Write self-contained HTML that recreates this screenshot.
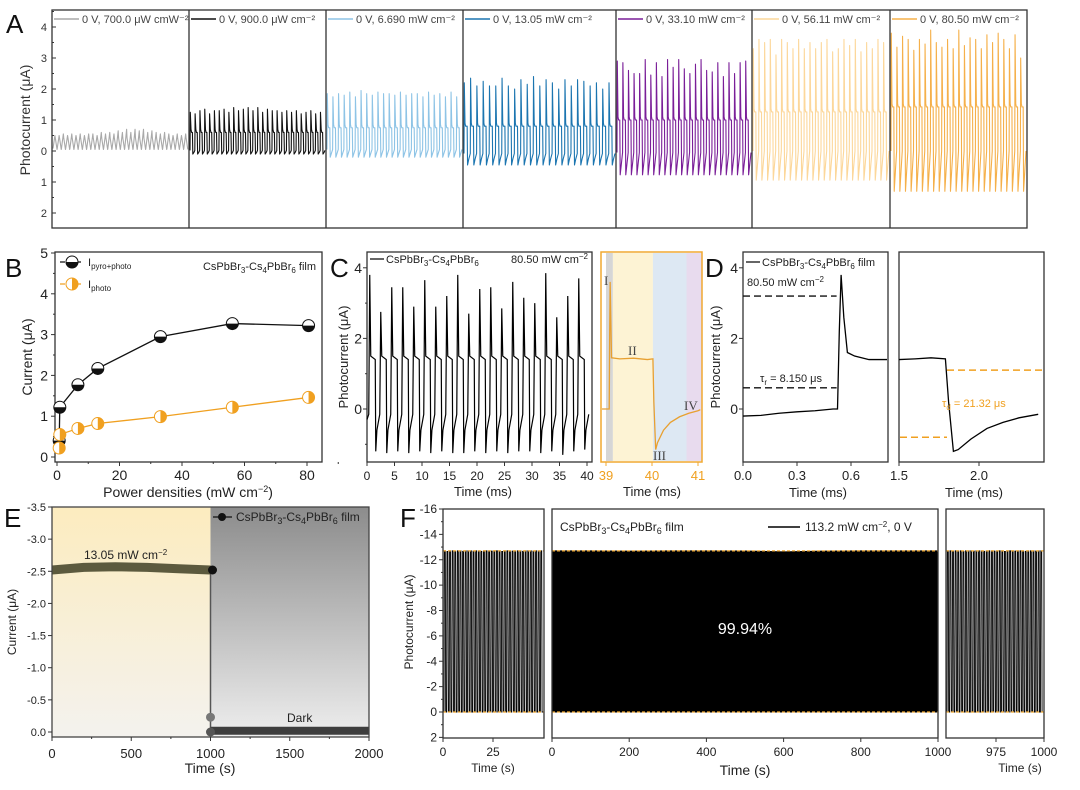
<!DOCTYPE html>
<html><head><meta charset="utf-8">
<style>
html,body{margin:0;padding:0;background:#fff;}
svg{display:block;font-family:"Liberation Sans",Arial,sans-serif;}
</style></head>
<body>
<svg id="fig" width="1080" height="790" viewBox="0 0 1080 790" xmlns="http://www.w3.org/2000/svg">
<defs>
<linearGradient id="gY" x1="0" y1="0" x2="0" y2="1"><stop offset="0" stop-color="#fcecbf"/><stop offset="1" stop-color="#f4f2ee"/></linearGradient>
<linearGradient id="gG" x1="0" y1="0" x2="0" y2="1"><stop offset="0" stop-color="#8c8c8c"/><stop offset="1" stop-color="#eeeeee"/></linearGradient>
</defs>
<g id="root"></g>
</svg>
<script>
// ---------- DATA ----------
const aLabels = ["0 V, 700.0 μW cmW⁻²","0 V, 900.0 μW cm⁻²","0 V, 6.690 mW cm⁻²","0 V, 13.05 mW cm⁻²","0 V, 33.10 mW cm⁻²","0 V, 56.11 mW cm⁻²","0 V, 80.50 mW cm⁻²"];
const aColors = ["#a9a9a9","#111111","#8ec4e6","#1b75b0","#7a1e98","#fcd79a","#f5b04a"];
const aHigh = [0.42,0.6,0.75,0.8,1.0,1.26,1.42];
const aLow = [0.08,0.02,0.05,-0.08,-0.05,0.0,0.0];
const aTrough = [0.05,-0.1,-0.2,-0.45,-0.77,-0.94,-1.3];
const aPeaks1 = [0.5,0.5,0.55,0.5,0.55,0.5,0.55,0.5,0.55,0.55,0.5,0.6,0.55,0.6,0.55,0.65,0.6,0.7,0.6,0.7,0.65,0.7,0.6,0.65,0.6,0.55,0.6,0.55,0.5,0.55,0.5,0.55];
const aPeaks2 = [1.25,1.2,1.3,1.35,1.2,1.3,1.3,1.35,1.25,1.4,1.3,1.35,1.4,1.3,1.4,1.25,1.35,1.3,1.3,1.25,1.3,1.25,1.3,1.2,1.25,1.3,1.2,1.25];
const aPeaks3 = [1.85,1.75,1.85,1.8,1.9,1.75,1.95,1.85,1.8,1.9,1.85,1.85,1.8,1.9,1.8,1.85,1.85,1.75,1.9,1.8,1.85,1.75,1.9,1.75];
const aPeaks4 = [2.2,2.35,2.1,2.25,2.1,2.1,2.35,2.1,2.0,2.3,2.15,2.4,2.1,2.3,2.2,2.0,2.3,2.1,2.3,2.25,2.1,2.2,2.0,2.2];
const aPeaks5 = [2.9,2.85,2.6,2.5,2.5,2.95,2.45,2.85,2.4,2.95,2.7,2.95,2.65,2.5,2.8,2.95,2.6,2.55,2.85,2.4,2.85,2.5,2.85,2.9];
const aPeaks6 = [3.3,3.6,3.5,3.6,3.1,3.6,3.5,3.3,3.6,3.3,3.5,3.3,3.5,3.6,3.2,3.3,3.6,3.4,3.6,3.2,3.5,3.3,3.6,3.5];
const aPeaks7 = [3.8,3.35,3.7,3.6,3.25,3.6,3.45,3.9,3.5,3.35,3.6,3.3,3.9,3.4,3.65,3.6,3.3,3.75,3.5,3.8,3.6,3.3,3.75,3.0];
const aYTicks = [4,3,2,1,0,-1,-2];
const aYTickLabels = ["4","3","2","1","0","1","2"];

const bPower = [0.7,0.9,6.69,13.05,33.1,56.11,80.5];
const bPyro = [0.4,1.22,1.77,2.17,2.95,3.27,3.22];
const bPhoto = [0.22,0.55,0.7,0.82,0.99,1.22,1.46];
const bXTicks = [0,20,40,60,80];
const bYTicks = [0,1,2,3,4,5];

const cPeaks = [3.8,2.75,3.45,3.45,2.9,3.65,2.9,3.2,3.8,2.7,3.4,3.45,2.85,3.6,3.15,3.0,3.85,2.6,3.2,3.7];
const cPlateau = 1.4;
const cTrough = [-1.2,-1.25,-1.2,-1.25,-1.2,-1.25,-1.2,-1.25,-1.25,-1.2,-1.25,-1.2,-1.25,-1.2,-1.2,-1.25,-1.2,-1.3,-1.2,-1.15];
const cXTicks = [0,5,10,15,20,25,30,35,40];
const cYTicks = [0,2,4];
const insetT = [38.9,39.07,39.08,39.09,39.12,39.3,39.6,39.9,40.02,40.04,40.08,40.12,40.25,40.4,40.6,40.8,41.0,41.05];
const insetV = [0.0,0.0,2.2,3.6,1.45,1.42,1.44,1.4,1.42,0.2,-1.15,-0.95,-0.6,-0.38,-0.22,-0.12,-0.05,-0.02];
const insetBands = [39.0,39.15,40.02,40.75,41.1];
const insetBandColors = ["#d6d6d6","#fdf3d4","#dde8f3","#e8dbee"];

const dLT = [0,0.1,0.2,0.3,0.4,0.5,0.525,0.535,0.545,0.56,0.58,0.62,0.7,0.8];
const dLV = [-0.2,-0.18,-0.12,-0.08,-0.05,0.0,0.0,2.2,3.8,2.6,1.6,1.5,1.4,1.4];
const dRT = [1.5,1.6,1.7,1.79,1.81,1.84,1.87,1.95,2.05,2.15,2.25,2.37];
const dRV = [1.4,1.42,1.45,1.42,0.2,-1.2,-1.15,-0.85,-0.55,-0.38,-0.25,-0.15];
const dXTicksL = [0.0,0.3,0.6];
const dXTicksR = [1.5,2.0];
const dDashL = [3.2,0.6];
const dDashR = [1.1,-0.8];

const eLightT = [0,200,400,600,800,1000];
const eLightV = [-2.52,-2.56,-2.57,-2.56,-2.54,-2.52];
const eDarkT = [1000,1500,2000];
const eDarkV = [-0.02,-0.02,-0.02];
const eXTicks = [0,500,1000,1500,2000];
const eYTicks = [-3.5,-3.0,-2.5,-2.0,-1.5,-1.0,-0.5,0.0];

const fAmpLeft = [12.7,12.65,12.7,12.7,12.68,12.7,12.7,12.66,12.7,12.7,12.7,12.68,12.7,12.7,12.66,12.7,12.7,12.7,12.68,12.7,12.7,12.7,12.65,12.7,12.7,12.7,12.68,12.7,12.7,12.7,12.66,12.7,12.7,12.7,12.68,12.7,12.7,12.7];
const fAmpMidT = [0,100,200,300,400,500,600,700,800,900,1000];
const fAmpMid = [12.7,12.7,12.68,12.7,12.7,12.69,12.62,12.68,12.7,12.7,12.7];
const fAmpRight = [12.7,12.7,12.68,12.7,12.7,12.7,12.66,12.7,12.7,12.7,12.68,12.7,12.7,12.7,12.66,12.7,12.7,12.7,12.68,12.7,12.7,12.7,12.65,12.7,12.7,12.7,12.68,12.7,12.7,12.7,12.66,12.7,12.7,12.7,12.68,12.7,12.7];
const fYTicks = [-16,-14,-12,-10,-8,-6,-4,-2,0,2];
const fLevels = [-12.7,0];

// ---------- HELPERS ----------
const NS = "http://www.w3.org/2000/svg";
const root = document.getElementById('root');
function mk(tag, attrs, parent){ const e=document.createElementNS(NS,tag); for(const k in attrs) e.setAttribute(k,attrs[k]); (parent||root).appendChild(e); return e; }
function txt(x,y,s,size,anchor,fill,parent){ const e=mk('text',{x:x,y:y,'font-size':size,'text-anchor':anchor||'start',fill:fill||'#222'},parent); e.textContent=s; return e; }
function lin(d0,d1,r0,r1){ return v => r0+(v-d0)*(r1-r0)/(d1-d0); }
function pathOf(pts){ return pts.map((p,i)=>(i?'L':'M')+p[0].toFixed(2)+' '+p[1].toFixed(2)).join(''); }

// ---------- PANEL A ----------
const aBounds = [52,189,326,463,616,752,890,1027];
const aTop = 10, aBot = 228;
const ay = lin(0,1,151,120);
const aPeaksAll = [aPeaks1,aPeaks2,aPeaks3,aPeaks4,aPeaks5,aPeaks6,aPeaks7];
for(let k=0;k<7;k++){
  const x0=aBounds[k]+1, x1=aBounds[k+1]-1, pk=aPeaksAll[k], N=pk.length, P=(x1-x0)/N;
  const pts=[];
  for(let i=0;i<N;i++){
    const xs=x0+i*P;
    if(k===0){
      pts.push([xs,ay(aLow[k])],[xs+P*0.45,ay(pk[i])],[xs+P*0.55,ay(aHigh[k])],[xs+P*0.95,ay(aTrough[k])]);
    } else {
      pts.push([xs,ay(aLow[k])],[xs+0.3,ay(pk[i])],[xs+1.0,ay(aHigh[k]+0.1)],[xs+1.6,ay(aHigh[k])],[xs+P*0.5,ay(aHigh[k])],[xs+P*0.5+0.4,ay(aTrough[k])],[xs+P*0.5+1.6,ay((aTrough[k]+aLow[k])/2)],[xs+P,ay(aLow[k])]);
    }
  }
  const tr=mk('path',{d:pathOf(pts),fill:'none',stroke:aColors[k],'stroke-width':1.1,'stroke-linejoin':'round'});
  
  
  const lg=mk('line',{x1:aBounds[k]+2,x2:aBounds[k]+27,y1:19,y2:19,stroke:aColors[k],'stroke-width':1.5});
  
  
  const lt=txt(aBounds[k]+30,23,aLabels[k],11,'start','#444');
  
  
  if(k>0){ const dv=mk('line',{x1:aBounds[k],x2:aBounds[k],y1:aTop,y2:aBot,stroke:'#333','stroke-width':1.3});
    
     }
}
const aFrame=mk('rect',{x:52,y:aTop,width:975,height:aBot-aTop,fill:'none',stroke:'#333','stroke-width':1.3});


aYTicks.forEach((v,i)=>{ mk('line',{x1:52,x2:56,y1:ay(v),y2:ay(v),stroke:'#333'}); mk('line',{x1:52,x2:54,y1:ay(v+0.5),y2:ay(v+0.5),stroke:'#333'});
  const t=txt(47,ay(v)+4,aYTickLabels[i],11,'end','#333');
  
   });
{ const t=txt(0,0,'Photocurrent (μA)',14,'middle','#333'); t.setAttribute('transform','translate(30,120) rotate(-90)');
  
  
  const L=txt(6,33,'A',26,'start','#111');
  
   }

// ---------- PANEL B ----------
const bx = lin(0,80,57,307), by = lin(0,5,457,253);
{ const f=mk('rect',{x:55,y:252,width:267,height:210,fill:'none',stroke:'#333','stroke-width':1.3});
  
   }
bXTicks.forEach(v=>{ mk('line',{x1:bx(v),x2:bx(v),y1:462,y2:466,stroke:'#333'}); mk('line',{x1:bx(v+10),x2:bx(v+10),y1:462,y2:464,stroke:'#333'});
  const t=txt(bx(v),480,String(v),14,'middle','#222');
  
   });
bYTicks.forEach(v=>{ mk('line',{x1:51,x2:55,y1:by(v),y2:by(v),stroke:'#333'}); if(v<5) mk('line',{x1:53,x2:55,y1:by(v+0.5),y2:by(v+0.5),stroke:'#333'});
  const t=txt(48,by(v)+5,String(v),14,'end','#222');
  
   });
{ const t=txt(188,497,'',14,'middle','#222'); t.innerHTML='Power densities (mW cm<tspan dy="-5" font-size="9">−2</tspan><tspan dy="5">)</tspan>';
  
  
  const y=txt(0,0,'Current (μA)',14,'middle','#222'); y.setAttribute('transform','translate(32,357) rotate(-90)');
  
  
  const L=txt(5,277,'B',26,'start','#111');
  
   }
function halfMarker(cx,cy,col,vertical,name){
  const g=mk('g',{});
  
  
  mk('circle',{cx:cx,cy:cy,r:6,fill:'#fff',stroke:col,'stroke-width':1},g);
  const d = vertical ? `M${cx} ${cy-6}A6 6 0 0 1 ${cx} ${cy+6}Z` : `M${cx-6} ${cy}A6 6 0 0 0 ${cx+6} ${cy}Z`;
  mk('path',{d:d,fill:col},g);
  return g;
}
{ const l1=mk('path',{d:pathOf(bPower.map((p,i)=>[bx(p),by(bPyro[i])])),fill:'none',stroke:'#111','stroke-width':1.3});
  
  
  const l2=mk('path',{d:pathOf(bPower.map((p,i)=>[bx(p),by(bPhoto[i])])),fill:'none',stroke:'#f0a020','stroke-width':1.3});
  
   }
bPower.forEach((p,i)=>{ halfMarker(bx(p),by(bPyro[i]),'#111',false,'point-pyro-photo'); });
bPower.forEach((p,i)=>{ halfMarker(bx(p),by(bPhoto[i]),'#f0a020',true,'point-photo'); });
{ mk('line',{x1:60,x2:84,y1:262,y2:262,stroke:'#111','stroke-width':1.3,'stroke-dasharray':'5 3'}); halfMarker(72,262,'#111',false,'legend-marker-pyro');
  const t=txt(88,266,'',11,'start','#222'); t.innerHTML='I<tspan dy="3" font-size="8">pyro+photo</tspan>';
  
  
  mk('line',{x1:60,x2:84,y1:284,y2:284,stroke:'#f0a020','stroke-width':1.3,'stroke-dasharray':'5 3'}); halfMarker(72,284,'#f0a020',true,'legend-marker-photo');
  const t2=txt(88,288,'',11,'start','#222'); t2.innerHTML='I<tspan dy="3" font-size="8">photo</tspan>';
  
  
  const t3=txt(316,270,'',11,'end','#222'); t3.innerHTML='CsPbBr<tspan dy="3" font-size="8">3</tspan><tspan dy="-3">-Cs</tspan><tspan dy="3" font-size="8">4</tspan><tspan dy="-3">PbBr</tspan><tspan dy="3" font-size="8">6</tspan><tspan dy="-3"> film</tspan>';
  
   }

// ---------- PANEL C ----------
const cx = lin(0,40,367,587), cy = lin(0,1,409,373.7);
{ const f=mk('rect',{x:367,y:252,width:225,height:210,fill:'none',stroke:'#333','stroke-width':1.3});
  
   }
{ const pts=[[cx(0),cy(-0.3)]];
  cPeaks.forEach((pk,i)=>{ const t0=0.5+2*i;
    pts.push([cx(t0)-1,cy(-0.15)],[cx(t0),cy(pk)],[cx(t0)+1,cy(cPlateau+0.1)],[cx(t0+1),cy(cPlateau)],[cx(t0+1)+0.5,cy(cTrough[i])],[cx(t0+1.3),cy(-0.6)],[cx(t0+2)-1,cy(-0.15)]); });
  const tr=mk('path',{d:pathOf(pts),fill:'none',stroke:'#000','stroke-width':1.2});
  
   }
cXTicks.forEach(v=>{ mk('line',{x1:cx(v),x2:cx(v),y1:462,y2:466,stroke:'#333'});
  const t=txt(cx(v),480,String(v),12,'middle','#222');
  
   });
cYTicks.forEach(v=>{ mk('line',{x1:363,x2:367,y1:cy(v),y2:cy(v),stroke:'#333'}); mk('line',{x1:365,x2:367,y1:cy(v-1),y2:cy(v-1),stroke:'#333'});
  const t=txt(362,cy(v)+5,String(v),14,'end','#222');
  
   });
{ const t=txt(483,496,'Time (ms)',13,'middle','#222');  
  const y=txt(0,0,'Photocurrent (μA)',13,'middle','#222'); y.setAttribute('transform','translate(348,357) rotate(-90)');
  
  
  const L=txt(330,277,'C',26,'start','#111');
  
  
  mk('line',{x1:370,x2:384,y1:259,y2:259,stroke:'#000','stroke-width':1.2});
  const lt=txt(386,263,'',11,'start','#222'); lt.innerHTML='CsPbBr<tspan dy="3" font-size="8">3</tspan><tspan dy="-3">-Cs</tspan><tspan dy="3" font-size="8">4</tspan><tspan dy="-3">PbBr</tspan><tspan dy="3" font-size="8">6</tspan>';
  
  
  const pw=txt(588,263,'',11,'end','#222'); pw.innerHTML='80.50 mW cm<tspan dy="-4" font-size="8">−2</tspan>';
  
   }
// inset
const ix = lin(39,41,606,698);
for(let b=0;b<4;b++){ const xa=Math.max(601,ix(insetBands[b])), xb=Math.min(702,ix(insetBands[b+1]));
  const r=mk('rect',{x:xa,y:253,width:xb-xa,height:208,fill:insetBandColors[b]});
  
   }
{ const tr=mk('path',{d:pathOf(insetT.map((t,i)=>[Math.min(701,Math.max(602,ix(t))),cy(insetV[i])])),fill:'none',stroke:'#e8a030','stroke-width':1.3});
  
  
  const f=mk('rect',{x:601,y:252,width:101,height:210,fill:'none',stroke:'#f0a830','stroke-width':1.5});
  
  
  [39,40,41].forEach(v=>{ mk('line',{x1:ix(v),x2:ix(v),y1:462,y2:466,stroke:'#f0a830'});
    const t=txt(ix(v),480,String(v),13,'middle','#f0a020');
    
     });
  const xt=txt(652,496,'Time (ms)',13,'middle','#222');  
  const rn=[['I',604,285],['II',628,355],['III',653,460],['IV',684,410]];
  rn.forEach(r=>{ const t=txt(r[1],r[2],r[0],13,'start','#444'); t.setAttribute('font-family','"Liberation Serif",serif');
    
     }); }

// ---------- PANEL D ----------
const dxL = lin(0,0.3,743,797), dxR = lin(1.5,2.0,899,979);
{ const f1=mk('rect',{x:743,y:252,width:145,height:210,fill:'none',stroke:'#333','stroke-width':1.3});
  
  
  const f2=mk('rect',{x:899,y:252,width:145,height:210,fill:'none',stroke:'#333','stroke-width':1.3});
  
  
  dDashL.forEach(v=>{ const l=mk('line',{x1:743,x2:dxL(0.52),y1:cy(v),y2:cy(v),stroke:'#111','stroke-width':1.3,'stroke-dasharray':'7 4'});
    
     });
  const l1=mk('line',{x1:dxR(1.8),x2:1043,y1:cy(dDashR[0]),y2:cy(dDashR[0]),stroke:'#f0a020','stroke-width':1.5,'stroke-dasharray':'7 4'});
  
  
  const l2=mk('line',{x1:900,x2:dxR(1.8),y1:cy(dDashR[1]),y2:cy(dDashR[1]),stroke:'#f0a020','stroke-width':1.5,'stroke-dasharray':'7 4'});
  
  
  const t1=mk('path',{d:pathOf(dLT.map((t,i)=>[dxL(t),cy(dLV[i])])),fill:'none',stroke:'#000','stroke-width':1.3});
  
  
  const t2=mk('path',{d:pathOf(dRT.map((t,i)=>[dxR(t),cy(dRV[i])])),fill:'none',stroke:'#000','stroke-width':1.3});
  
  
  dXTicksL.forEach(v=>{ mk('line',{x1:dxL(v),x2:dxL(v),y1:462,y2:466,stroke:'#333'});
    const t=txt(dxL(v),480,v.toFixed(1),13,'middle','#222');
    
     });
  dXTicksR.forEach(v=>{ mk('line',{x1:dxR(v),x2:dxR(v),y1:462,y2:466,stroke:'#333'});
    const t=txt(dxR(v),480,v.toFixed(1),13,'middle','#222');
    
     });
  cYTicks.forEach(v=>{ mk('line',{x1:739,x2:743,y1:cy(v),y2:cy(v),stroke:'#333'});
    const t=txt(738,cy(v)+5,String(v),14,'end','#222');
    
     });
  const xa=txt(818,497,'Time (ms)',13,'middle','#222');  
  const xb=txt(974,497,'Time (ms)',13,'middle','#222');  
  const y=txt(0,0,'Photocurrent (μA)',13,'middle','#222'); y.setAttribute('transform','translate(720,357) rotate(-90)');
  
  
  const L=txt(705,277,'D',26,'start','#111');
  
  
  mk('line',{x1:746,x2:760,y1:262,y2:262,stroke:'#000','stroke-width':1.2});
  const lt=txt(762,266,'',11,'start','#222'); lt.innerHTML='CsPbBr<tspan dy="3" font-size="8">3</tspan><tspan dy="-3">-Cs</tspan><tspan dy="3" font-size="8">4</tspan><tspan dy="-3">PbBr</tspan><tspan dy="3" font-size="8">6</tspan><tspan dy="-3"> film</tspan>';
  
  
  const pw=txt(747,286,'',11,'start','#222'); pw.innerHTML='80.50 mW cm<tspan dy="-4" font-size="8">−2</tspan>';
  
  
  const tr=txt(760,382,'',11,'start','#222'); tr.innerHTML='τ<tspan dy="3" font-size="8">r</tspan><tspan dy="-3"> = 8.150 μs</tspan>';
  
  
  const td=txt(942,407,'',11,'start','#f0a020'); td.innerHTML='τ<tspan dy="3" font-size="8">d</tspan><tspan dy="-3"> = 21.32 μs</tspan>';
  
   }

// ---------- PANEL E ----------
const ex = lin(0,2000,52,369), ey = lin(0,-3.5,732,507);
{ const r1=mk('rect',{x:52,y:507,width:ex(1000)-52,height:230,fill:'url(#gY)'});
  
  
  const r2=mk('rect',{x:ex(1000),y:507,width:369-ex(1000),height:230,fill:'url(#gG)'});
  
  
  const vl=mk('line',{x1:ex(1000),x2:ex(1000),y1:ey(eLightV[5]),y2:ey(0),stroke:'#555','stroke-width':1.5});
  
  
  const s1=mk('path',{d:pathOf(eLightT.map((t,i)=>[ex(t),ey(eLightV[i])])),fill:'none',stroke:'#5c5a3e','stroke-width':9});
  
  
  const s2=mk('path',{d:pathOf(eDarkT.map((t,i)=>[ex(t),ey(eDarkV[i])])),fill:'none',stroke:'#3e3e3e','stroke-width':8});
  
  
  const m1=mk('circle',{cx:ex(1000)+2,cy:ey(-2.52),r:4.5,fill:'#111'});  
  const m2=mk('circle',{cx:ex(1000),cy:ey(-0.23),r:4.5,fill:'#777'});  
  const m3=mk('circle',{cx:ex(1000),cy:ey(0),r:4.5,fill:'#555'});  
  const f=mk('rect',{x:52,y:507,width:317,height:230,fill:'none',stroke:'#444','stroke-width':1.3});
  
  
  eXTicks.forEach(v=>{ mk('line',{x1:ex(v),x2:ex(v),y1:737,y2:741,stroke:'#333'}); if(v<2000) mk('line',{x1:ex(v+250),x2:ex(v+250),y1:737,y2:739,stroke:'#333'});
    const t=txt(ex(v),758,String(v),13,'middle','#222');
    
     });
  eYTicks.forEach(v=>{ mk('line',{x1:48,x2:52,y1:ey(v),y2:ey(v),stroke:'#333'});
    const t=txt(46,ey(v)+4,v.toFixed(1),11,'end','#222');
    
     });
  const xa=txt(210,773,'Time (s)',14,'middle','#222');  
  const y=txt(0,0,'Current (μA)',12,'middle','#222'); y.setAttribute('transform','translate(16,622) rotate(-90)');
  
  
  const L=txt(4,527,'E',26,'start','#111');
  
  
  mk('line',{x1:213,x2:232,y1:517,y2:517,stroke:'#111','stroke-width':1.3});
  const lm=mk('circle',{cx:222,cy:517,r:4,fill:'#111'});  
  const lt=txt(236,521,'',12,'start','#222'); lt.innerHTML='CsPbBr<tspan dy="3" font-size="9">3</tspan><tspan dy="-3">-Cs</tspan><tspan dy="3" font-size="9">4</tspan><tspan dy="-3">PbBr</tspan><tspan dy="3" font-size="9">6</tspan><tspan dy="-3"> film</tspan>';
  
  
  const pw=txt(84,559,'',12,'start','#222'); pw.innerHTML='13.05 mW cm<tspan dy="-4" font-size="8">−2</tspan>';
  
  
  const dk=txt(287,722,'Dark',12,'start','#222');   }

// ---------- PANEL F ----------
const fy = lin(0,-16,712,509);
const fxL = lin(0,25,443,493), fxM = lin(0,1000,552,938), fxR = lin(975,1000,996,1044);
function pulses(amps,x0,x1,name){
  const P=(x1-x0)/amps.length, pts=[];
  amps.forEach((a,i)=>{ const xs=x0+i*P; pts.push([xs,fy(0)],[xs+P*0.15,fy(-a)],[xs+P*0.5,fy(-a)],[xs+P*0.65,fy(0)],[xs+P,fy(0)]); });
  const p=mk('path',{d:pathOf(pts),fill:'none',stroke:'#000','stroke-width':0.9});
  
  
}
pulses(fAmpLeft,444,543,'trace-f-start');
pulses(fAmpRight,947,1043,'trace-f-end');
{ const pts=[[fxM(0),fy(0)]].concat(fAmpMidT.map((t,i)=>[fxM(t),fy(-fAmpMid[i])])).concat([[fxM(1000),fy(0)]]);
  const p=mk('path',{d:pathOf(pts)+'Z',fill:'#000',stroke:'#000'});
  
  
  [[443,544],[552,938],[946,1044]].forEach((s,j)=>{
    fLevels.forEach(v=>{ const l=mk('line',{x1:s[0],x2:s[1],y1:fy(v),y2:fy(v),stroke:'#f0a830','stroke-width':1.3,'stroke-dasharray':'3 2'});
      
       });
    const f=mk('rect',{x:s[0],y:509,width:s[1]-s[0],height:229,fill:'none',stroke:'#333','stroke-width':1.3});
    
     });
  fYTicks.forEach(v=>{ mk('line',{x1:439,x2:443,y1:fy(v),y2:fy(v),stroke:'#333'}); if(v<2) mk('line',{x1:441,x2:443,y1:fy(v+1),y2:fy(v+1),stroke:'#333'});
    const t=txt(437,fy(v)+4,String(v),12,'end','#222');
    
     });
  [[fxL,[0,25]],[fxM,[0,200,400,600,800,1000]],[fxR,[975,1000]]].forEach(g=>{
    g[1].forEach(v=>{ mk('line',{x1:g[0](v),x2:g[0](v),y1:738,y2:742,stroke:'#333'});
      const t=txt(g[0](v),756,String(v),12,'middle','#222');
      
       }); });
  [[493,772,12],[745,775,14],[1020,772,12]].forEach(p=>{ const t=txt(p[0],p[1],'Time (s)',p[2],'middle','#222');
    
     });
  const y=txt(0,0,'Photocurrent (μA)',12,'middle','#222'); y.setAttribute('transform','translate(413,622) rotate(-90)');
  
  
  const L=txt(400,527,'F',26,'start','#111');
  
  
  const st=txt(560,531,'',12,'start','#222'); st.innerHTML='CsPbBr<tspan dy="3" font-size="9">3</tspan><tspan dy="-3">-Cs</tspan><tspan dy="3" font-size="9">4</tspan><tspan dy="-3">PbBr</tspan><tspan dy="3" font-size="9">6</tspan><tspan dy="-3"> film</tspan>';
  
  
  mk('line',{x1:768,x2:800,y1:527,y2:527,stroke:'#000','stroke-width':1.5});
  const lt=txt(805,531,'',12,'start','#222'); lt.innerHTML='113.2 mW cm<tspan dy="-4" font-size="8">−2</tspan><tspan dy="4">, 0 V</tspan>';
  
  
  const pc=txt(745,634,'99.94%',16,'middle','#fff');
  
   }
</script>
</body></html>
